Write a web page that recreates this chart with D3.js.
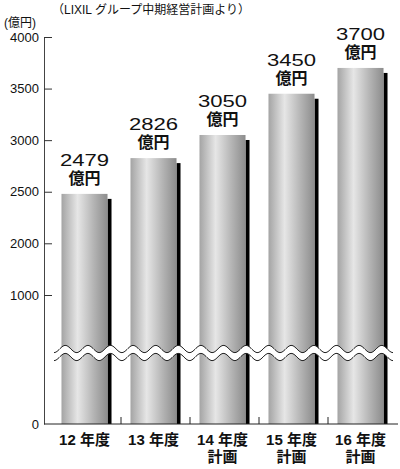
<!DOCTYPE html>
<html>
<head>
<meta charset="utf-8">
<script src="https://cdn.jsdelivr.net/npm/d3@7"></script>
<style>
  body { margin: 0; background: #fff; }
  svg text { font-family: "Liberation Sans", Arial, "Noto Sans CJK JP", sans-serif; fill: #111; }
</style>
</head>
<body>
<div id="chart"></div>
<script>
// data
let years = ["12 年度", "13 年度", "14 年度", "15 年度", "16 年度"];
let subLabels = ["", "", "計画", "計画", "計画"];
let sales = [2479, 2826, 3050, 3450, 3700];
let yTicks = [0, 1000, 2000, 2500, 3000, 3500, 4000];

let width = 400, height = 469;

let svg = d3.select("#chart").append("svg")
    .attr("width", width)
    .attr("height", height);

let defs = svg.append("defs");
let grad = defs.append("linearGradient")
    .attr("id", "barGrad")
    .attr("x1", "0%").attr("x2", "100%")
    .attr("y1", "0%").attr("y2", "0%");
grad.append("stop").attr("offset", "0%").attr("stop-color", "#a4a4a4");
grad.append("stop").attr("offset", "35%").attr("stop-color", "#e6e6e6");
grad.append("stop").attr("offset", "70%").attr("stop-color", "#b4b4b4");
grad.append("stop").attr("offset", "100%").attr("stop-color", "#8c8c8c");

// broken axis: 0-1000 squeezed below the break
let y = d3.scaleLinear()
    .domain([0, 1000, 2000, 4000])
    .range([424, 295, 243.3, 37]);

let x = d3.scaleBand()
    .domain(years)
    .range([52, 397])
    .paddingInner(0.275)
    .paddingOuter(0.1375);

let shadowW = 4;
let barW = x.bandwidth() - shadowW;

// shadows
svg.selectAll(".shadow")
    .data(sales)
    .join("rect")
    .attr("class", "shadow")
    .attr("x", (d, i) => x(years[i]) + barW)
    .attr("y", d => y(d) + 5)
    .attr("width", shadowW)
    .attr("height", d => y(0) - y(d) - 5)
    .attr("fill", "#000");

// bars
svg.selectAll(".bar")
    .data(sales)
    .join("rect")
    .attr("class", "bar")
    .attr("x", (d, i) => x(years[i]))
    .attr("y", d => y(d))
    .attr("width", barW)
    .attr("height", d => y(0) - y(d))
    .attr("fill", "url(#barGrad)");

// break band
let breakY = y(1000) + 58;
let bx0 = 54, bx1 = 393;
let wave = [];
for (let px = bx0; px <= bx1; px += 1) {
    wave.push([px, breakY + 3.6 * Math.sin((px - bx0) / 22.6 * 2 * Math.PI + Math.PI / 2)]);
}
let waveTop = wave.map(p => [p[0], p[1] - 4]);
let waveBot = wave.map(p => [p[0], p[1] + 4]);
let line = d3.line();
svg.append("path")
    .attr("d", line(waveTop.concat(waveBot.slice().reverse())) + "Z")
    .attr("fill", "#fff");
svg.append("path").attr("d", line(waveTop)).attr("fill", "none").attr("stroke", "#222").attr("stroke-width", 1);
svg.append("path").attr("d", line(waveBot)).attr("fill", "none").attr("stroke", "#222").attr("stroke-width", 1);

// y axis
let yAxis = svg.append("g")
    .attr("transform", "translate(44,0)")
    .call(d3.axisLeft(y).tickValues(yTicks).tickFormat(d3.format("d"))
        .tickSizeInner(-8).tickSizeOuter(0).tickPadding(5));
yAxis.select(".domain").attr("stroke", "#444");
yAxis.selectAll(".tick line").attr("stroke", "#333");
yAxis.selectAll(".tick text")
    .style("font-size", "13px")
    .attr("fill", "#111");
yAxis.selectAll(".tick").filter(d => d === 0).select("line").remove();

// x axis
svg.append("line")
    .attr("x1", 44).attr("x2", 398)
    .attr("y1", y(0)).attr("y2", y(0))
    .attr("stroke", "#222");
let step = x.step();
svg.selectAll(".xtick")
    .data(years.slice(1))
    .join("line")
    .attr("class", "xtick")
    .attr("x1", d => x(d) - (step - x.bandwidth()) / 2)
    .attr("x2", d => x(d) - (step - x.bandwidth()) / 2)
    .attr("y1", y(0)).attr("y2", y(0) - 7)
    .attr("stroke", "#222");

svg.selectAll(".xlab")
    .data(years)
    .join("text")
    .attr("class", "xlab")
    .attr("x", (d, i) => x(d) + barW / 2)
    .attr("y", 445)
    .attr("text-anchor", "middle")
    .style("font-size", "15px")
    .style("font-weight", "bold")
    .text(d => d);

svg.selectAll(".xlab2")
    .data(subLabels)
    .join("text")
    .attr("class", "xlab2")
    .attr("x", (d, i) => x(years[i]) + barW / 2)
    .attr("y", 462)
    .attr("text-anchor", "middle")
    .style("font-size", "15px")
    .style("font-weight", "bold")
    .text(d => d);

// value labels
svg.selectAll(".val")
    .data(sales)
    .join("text")
    .attr("class", "val")
    .attr("transform", (d, i) => `translate(${x(years[i]) + barW / 2},${y(d) - 28}) scale(1.3,1)`)
    .attr("text-anchor", "middle")
    .style("font-size", "17px")
    .text(d => d);

svg.selectAll(".unit")
    .data(sales)
    .join("text")
    .attr("class", "unit")
    .attr("x", (d, i) => x(years[i]) + barW / 2)
    .attr("y", d => y(d) - 10)
    .attr("text-anchor", "middle")
    .style("font-size", "16px")
    .style("font-weight", "bold")
    .text("億円");

// titles
svg.append("text")
    .attr("x", 4).attr("y", 27)
    .style("font-size", "12px")
    .text("(億円)");
svg.append("text")
    .attr("x", 52).attr("y", 14)
    .style("font-size", "12px")
    .text("（LIXIL グループ中期経営計画より）");
</script>
</body>
</html>
